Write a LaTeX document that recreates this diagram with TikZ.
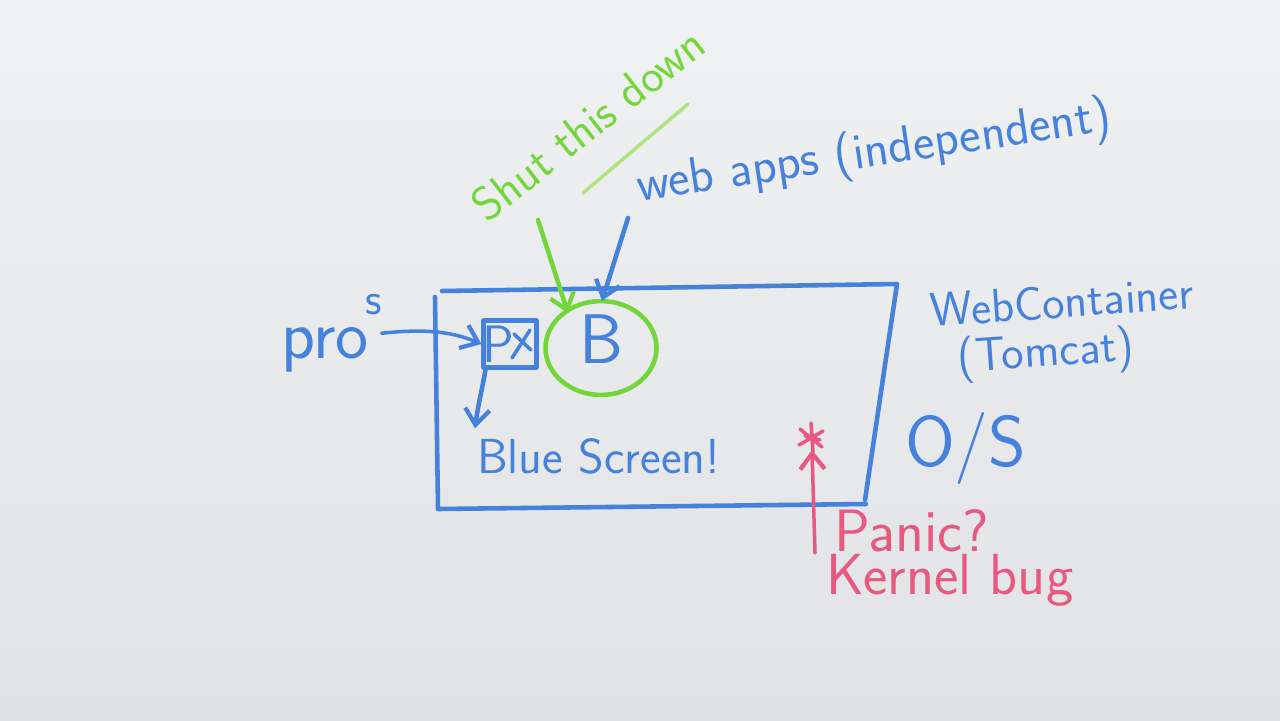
\documentclass[tikz,border=0pt]{standalone}
\usetikzlibrary{arrows.meta,calc,shapes.geometric}
\definecolor{mblue}{RGB}{70,130,220}
\definecolor{mgreen}{RGB}{115,215,60}
\definecolor{lgreen}{RGB}{175,228,130}
\definecolor{mpink}{RGB}{232,88,128}
\definecolor{bgtop}{RGB}{240,241,242}
\definecolor{bgbot}{RGB}{224,226,229}
\newcommand\myfs[1]{\fontsize{#1}{#1}\selectfont}
\begin{document}
\begin{tikzpicture}[x=0.02cm,y=-0.02cm,line cap=round,line join=round,
  mk/.style={line width=2.6pt},
  bl/.style={mk,draw=mblue},
  gr/.style={mk,draw=mgreen},
  pk/.style={line width=2pt,draw=mpink},
  barb/.style={-{Straight Barb[length=9pt,width=14pt,line width=2.4pt]}},
  txt/.style={font=\sffamily,inner sep=0pt,outer sep=0pt}]
\useasboundingbox (0,0) rectangle (1280,720);
\shade[top color=bgtop,bottom color=bgbot] (0,0) rectangle (1280,720);

% web container frame (hand drawn)
\draw[bl] (442,291) -- (897,284) -- (865,500);
\draw[bl] (435,297) -- (438,509) -- (866,504);

% labels
\node[txt,text=mgreen,rotate=38,anchor=south west,font=\sffamily\myfs{27}] (shut) at (488,224) {Shut this down};
\coordinate (ul1) at (583,193);
\coordinate (ul2) at (688,104);
\draw[line width=2pt,draw=lgreen] (ul1) -- (ul2);
\node[txt,text=mblue,rotate=8.5,anchor=south west,font=\sffamily\myfs{29}] (webapps) at (641,214) {web apps (independent)};
\node[txt,text=mblue,rotate=4,anchor=south west,align=left,font=\sffamily\myfs{27}] (wc) at (936,386) {WebContainer\\\hspace*{0.5em}(Tomcat)};
\node[txt,text=mblue,anchor=south west,font=\sffamily\myfs{41}] (os) at (905,484) {O/S};
\node[txt,text=mpink,anchor=south west,font=\sffamily\myfs{34}] (panic) at (834,552) {Panic?};
\node[txt,text=mpink,anchor=south west,font=\sffamily\myfs{33}] (kernel) at (826,606) {Kernel bug};
\node[txt,text=mblue,anchor=south west,font=\sffamily\myfs{40}] (pros) at (281,372) {pro\hspace{-0.05em}\raisebox{0.62em}{\myfs{26}s}};
\node[txt,text=mblue,anchor=south west,font=\sffamily\myfs{28}] (bscr) at (477,474) {Blue Screen!};

% process boxes
\node[draw=mblue,mk,minimum width=1.05cm,minimum height=0.94cm,text=mblue,font=\sffamily\myfs{30},inner sep=0pt] (pbox) at (510,344) {\hspace*{-0.45em}P};
\draw[mblue,line width=2pt] ($(pbox.center)+(2,14)$) -- ($(pbox.center)+(20,-14)$);
\draw[mblue,line width=2pt] ($(pbox.center)+(4,-10)$) -- ($(pbox.center)+(21,6)$);
\node[ellipse,draw=mgreen,mk,minimum width=2.22cm,minimum height=1.7cm,text=mblue,font=\sffamily\myfs{40},inner sep=0pt,text depth=0pt] (circ) at (601,348) {\raisebox{0.25em}{B}};

% red marker: burst
\coordinate (star) at (811,438);
\draw[pk] ($(star)+(0,-15)$) -- ($(star)+(2,14)$)
          ($(star)+(-11,-9)$) -- ($(star)+(11,9)$)
          ($(star)+(-12,7)$) -- ($(star)+(12,-7)$)
          ($(star)+(-6,-2)$) -- ($(star)+(9,2)$);

% connectors
\coordinate (shutfoot) at (538,220);
\draw[gr,barb] (shutfoot) -- (circ.north west -| 568,0);
\coordinate (webfoot) at (628,218);
\draw[bl,barb] (webfoot) -- ($(circ.north)+(1,2)$);
\draw[line width=2pt,draw=mblue,barb] (pros.east) .. controls (430,328) and (455,333) .. (pbox.west);
\draw[bl,barb] (pbox.south west) ++(4,0) .. controls (482,390) and (478,405) .. ($(bscr.north west)+(-2,-10)$);
\coordinate (redfoot) at (815,553);
\draw[pk,barb] (redfoot) -- ($(star)+(1,12)$);
\end{tikzpicture}
\end{document}
